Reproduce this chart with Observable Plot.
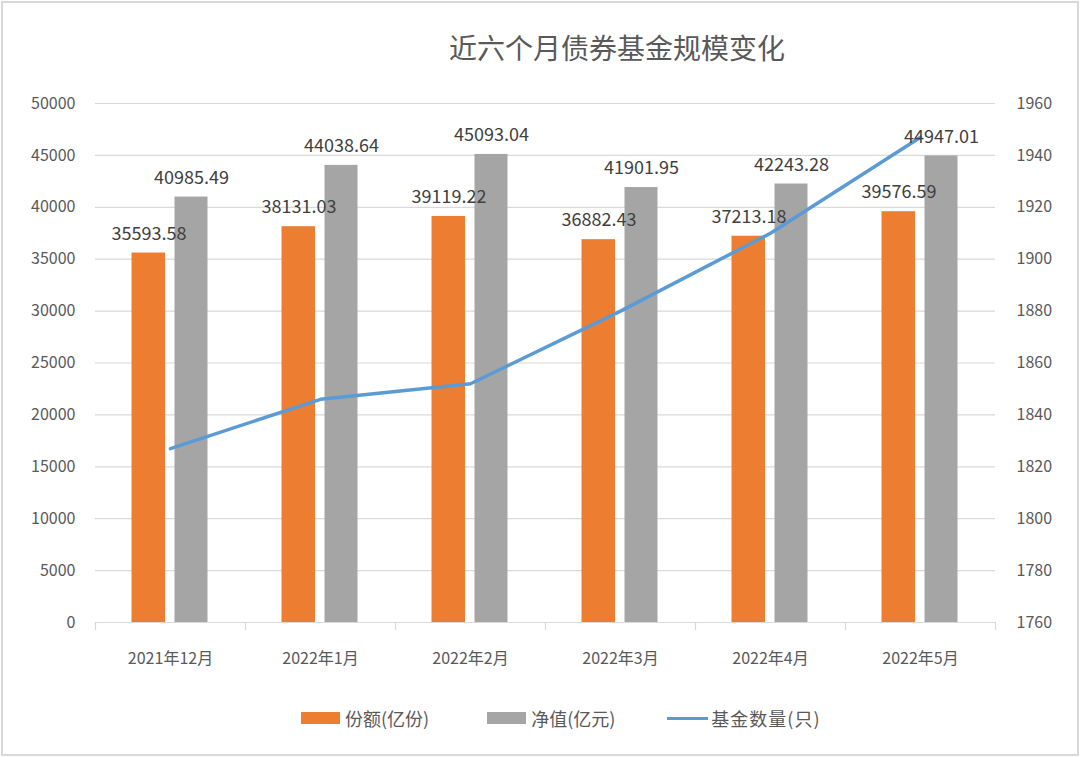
<!DOCTYPE html>
<html>
<head>
<meta charset="utf-8">
<script src="https://cdn.jsdelivr.net/npm/d3@7"></script>
<script src="https://cdn.jsdelivr.net/npm/@observablehq/plot@0.6"></script>
<style>
  html, body { margin: 0; padding: 0; background: #fff; }
  #wrap { position: relative; width: 1080px; height: 757px; overflow: hidden; font-family: "Noto Sans CJK SC", "Noto Sans", sans-serif; }
  #frame { position: absolute; left: 1px; top: 1px; width: 1078px; height: 755px; box-sizing: border-box; border: 2px solid #d9d9d9; pointer-events: none; }
  #chart { position: absolute; left: 0; top: 0; }
  #title { position: absolute; left: 0; width: 1234px; top: 28px; text-align: center; font-size: 28px; color: #595959; line-height: 38px; }
  #legend { position: absolute; top: 706px; left: 301px; display: flex; align-items: center; font-size: 18px; color: #595959; line-height: 24px; }
  .item { display: flex; align-items: center; }
  .sw { width: 39px; height: 12px; margin-right: 5px; }
  .ln { width: 41px; height: 3px; margin-right: 3px; }
</style>
</head>
<body>
<div id="wrap">
  <div id="title">近六个月债券基金规模变化</div>
  <div id="chart"></div>
  <div id="legend"></div>
  <div id="frame"></div>
</div>
<script>
// ---- data ----
const categories = ["2021年12月", "2022年1月", "2022年2月", "2022年3月", "2022年4月", "2022年5月"];
const shares = [35593.58, 38131.03, 39119.22, 36882.43, 37213.18, 39576.59];      // 份额(亿份)
const netValues = [40985.49, 44038.64, 45093.04, 41901.95, 42243.28, 44947.01];   // 净值(亿元)
const fundCounts = [1827, 1846, 1852, 1880, 1910, 1947];                          // 基金数量(只)
const leftTicks = [0, 5000, 10000, 15000, 20000, 25000, 30000, 35000, 40000, 45000, 50000];
const rightTicks = [1760, 1780, 1800, 1820, 1840, 1860, 1880, 1900, 1920, 1940, 1960];
const seriesNames = ["份额(亿份)", "净值(亿元)", "基金数量(只)"];
const colors = ["#ED7D31", "#A5A5A5", "#5B9BD5"];

// map right-axis values onto the left scale domain
const leftMax = leftTicks[leftTicks.length - 1];
const rMin = rightTicks[0], rMax = rightTicks[rightTicks.length - 1];
const toLeft = v => (v - rMin) / (rMax - rMin) * leftMax;
const fromLeft = v => Math.round(rMin + v / leftMax * (rMax - rMin));

const rows = categories.map((c, i) => ({cat: c, share: shares[i], net: netValues[i], count: toLeft(fundCounts[i])}));

const textColor = "#595959";
const plot = Plot.plot({
  width: 1080,
  height: 757,
  marginLeft: 95,
  marginRight: 85,
  marginTop: 103,
  marginBottom: 135,
  style: {fontFamily: '"Noto Sans CJK SC", "Noto Sans", sans-serif', background: "transparent", overflow: "visible"},
  x: {type: "band", domain: categories, padding: 0, label: null},
  y: {domain: [0, leftMax], label: null},
  marks: [
    Plot.gridY(leftTicks, {stroke: "#d9d9d9", strokeOpacity: 1, strokeWidth: 1.2}),
    Plot.ruleY([0], {stroke: "#d9d9d9", strokeWidth: 1.2}),
    // category boundary ticks
    Plot.axisX({tickSize: 8, text: null, label: null, dx: -75, stroke: "#d9d9d9", strokeWidth: 1.2}),
    Plot.axisX(categories.slice(-1), {tickSize: 8, text: null, label: null, dx: 75, stroke: "#d9d9d9", strokeWidth: 1.2}),
    Plot.axisX({tickSize: 0, tickPadding: 30, fontSize: 16, fill: textColor, label: null}),
    Plot.axisY(leftTicks, {anchor: "left", tickSize: 0, tickPadding: 20, fontSize: 16, fill: textColor, label: null, tickFormat: d => String(d)}),
    Plot.axisY(rightTicks.map(toLeft), {anchor: "right", tickSize: 0, tickPadding: 21, fontSize: 16, fill: textColor, label: null, tickFormat: d => String(fromLeft(d))}),
    Plot.barY(rows, {x: "cat", y: "share", fill: colors[0], insetLeft: 36.5, insetRight: 80}),
    Plot.barY(rows, {x: "cat", y: "net", fill: colors[1], insetLeft: 79.5, insetRight: 37.5}),
    Plot.lineY(rows, {x: "cat", y: "count", stroke: colors[2], strokeWidth: 3.5, strokeLinecap: "round", strokeLinejoin: "round"}),
    Plot.text(rows, {x: "cat", y: "share", text: d => d.share.toFixed(2), dx: -21.5, dy: -19, fontSize: 18, fill: "#404040"}),
    Plot.text(rows, {x: "cat", y: "net", text: d => d.net.toFixed(2), dx: 21, dy: -19, fontSize: 18, fill: "#404040"})
  ]
});
document.getElementById("chart").appendChild(plot);

// legend
const legend = document.getElementById("legend");
seriesNames.forEach((name, i) => {
  const item = document.createElement("div");
  item.className = "item";
  item.style.marginRight = i === 0 ? "58px" : (i === 1 ? "52px" : "0");
  const sw = document.createElement("div");
  sw.className = i < 2 ? "sw" : "ln";
  sw.style.background = colors[i];
  const t = document.createElement("span");
  t.textContent = name;
  if (i === 2) t.style.letterSpacing = "1px";
  item.appendChild(sw);
  item.appendChild(t);
  legend.appendChild(item);
});
</script>
</body>
</html>
